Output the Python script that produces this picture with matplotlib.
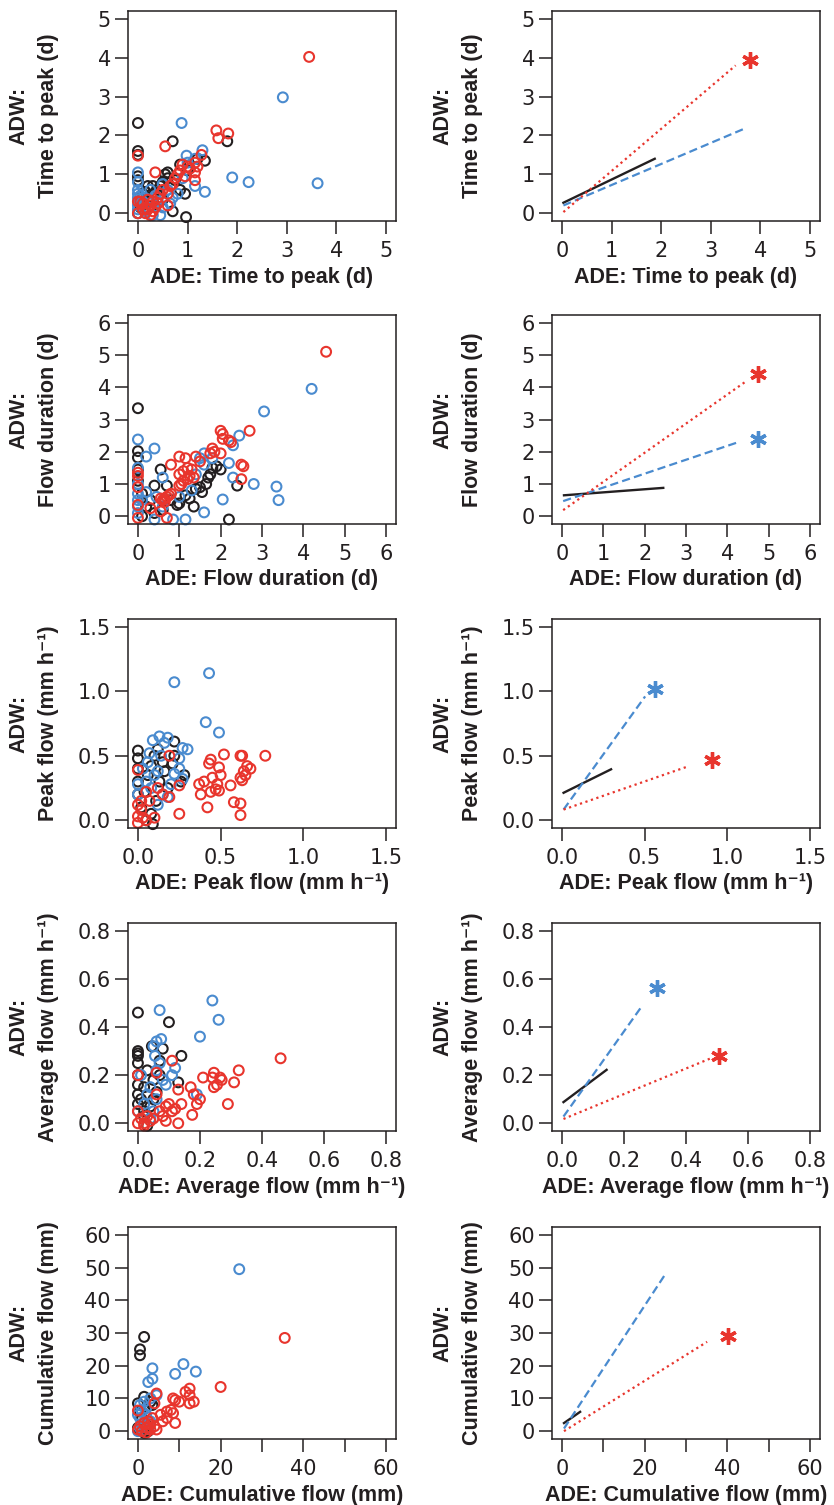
import numpy as np
import matplotlib
matplotlib.use('Agg')
import matplotlib.pyplot as plt

# colours for the three groups
BLACK = '#231f20'
BLUE = '#4a8bcf'
RED = '#e8352d'

# ---- time to peak (d) ----
tp_black = [(0.0, 2.32), (0.0, 1.6), (0.0, 1.5), (0.7, 1.85), (1.8, 1.85), (1.35, 1.35), (1.2, 1.4),
            (0.85, 1.25), (1.0, 1.1), (0.6, 1.05), (0.55, 1.0), (0.95, 0.5), (0.7, 0.05), (0.97, -0.1),
            (0.3, 0.7), (0.2, 0.7), (0.0, 0.95), (0.0, 0.85), (0.4, 0.6), (0.5, 0.8), (0.6, 0.9),
            (0.75, 0.85), (0.1, 0.5), (0.2, 0.4), (0.3, 0.2), (0.0, 0.0), (0.05, 0.15), (0.15, 0.55),
            (0.5, 0.35), (0.45, 0.7), (0.25, 0.3), (0.85, 0.6)]
tp_blue = [(2.92, 2.98), (3.62, 0.77), (2.23, 0.8), (1.9, 0.92), (0.88, 2.32), (0.98, 1.48), (1.3, 1.62),
           (1.35, 0.55), (1.15, 0.7), (1.0, 1.3), (1.15, 1.4), (0.0, 1.05), (0.0, 0.8), (0.0, 0.6),
           (0.0, 0.5), (0.0, 0.4), (0.0, 0.3), (0.0, 0.2), (0.0, 0.1), (0.0, 0.0), (0.05, 0.45),
           (0.1, 0.3), (0.2, 0.15), (0.3, -0.05), (0.45, -0.05), (0.5, 0.15), (0.4, 0.3), (0.6, 0.6),
           (0.8, 0.5), (0.7, 0.4), (0.65, 0.25), (0.9, 0.9), (0.5, 0.75), (0.25, 0.6), (0.15, 0.05),
           (0.35, 0.45)]
tp_red = [(3.45, 4.02), (1.58, 2.13), (1.62, 1.93), (1.82, 2.05), (0.55, 1.72), (0.0, 1.48), (0.35, 1.05),
          (1.28, 1.5), (1.15, 1.3), (1.2, 1.2), (1.15, 1.05), (0.85, 1.1), (0.9, 1.25), (0.8, 1.0),
          (0.75, 0.9), (1.15, 0.85), (0.65, 0.7), (0.6, 0.5), (0.6, 0.2), (0.4, 0.4), (0.3, 0.3),
          (0.25, 0.2), (0.2, 0.1), (0.15, 0.0), (0.1, 0.25), (0.05, 0.3), (0.0, 0.3), (0.0, 0.0),
          (0.3, 0.05), (0.35, 0.15), (0.45, 0.5), (0.5, 0.6), (0.2, 0.35), (0.1, 0.1), (0.25, -0.05),
          (0.4, 0.25), (0.7, 0.75), (0.95, 0.95), (1.05, 1.15), (1.0, 1.2)]
tp_fit_black = [(0.03, 0.27), (1.87, 1.40)]
tp_fit_blue = [(0.03, 0.20), (3.65, 2.16)]
tp_fit_red = [(0.03, 0.03), (3.50, 3.80)]
tp_star_blue = None
tp_star_red = (3.79, 3.94)

# ---- flow duration (d) ----
fd_black = [(0.0, 3.35), (0.0, 2.02), (0.0, 1.82), (0.0, 1.45), (0.55, 1.45), (0.4, 0.95), (0.7, 0.95),
            (2.2, -0.1), (2.4, 0.95), (1.8, 1.5), (1.9, 1.55), (2.0, 1.45), (1.7, 1.2), (1.65, 1.0),
            (1.5, 0.9), (1.55, 0.75), (1.4, 0.85), (1.25, 0.55), (1.35, 0.3), (1.0, 0.4), (0.95, 0.35),
            (0.8, 0.5), (0.6, 0.2), (0.4, 0.1), (0.1, 0.0), (0.2, 0.3), (0.3, 0.5), (0.1, 0.7),
            (0.0, 1.1), (1.75, 1.3), (1.15, 0.65)]
fd_blue = [(4.2, 3.95), (3.05, 3.25), (2.45, 2.5), (2.3, 2.2), (0.0, 2.38), (0.4, 2.1), (0.2, 1.85),
           (2.2, 1.65), (2.3, 1.2), (2.8, 1.0), (3.35, 0.92), (3.4, 0.5), (2.05, 0.52), (1.6, 0.12),
           (1.15, -0.1), (0.85, -0.1), (0.4, -0.1), (0.0, 1.5), (0.0, 1.0), (0.0, 0.7), (0.0, 0.5),
           (0.0, 0.3), (0.0, 0.1), (0.1, 0.5), (0.2, 0.75), (0.45, 0.6), (0.6, 1.2), (0.6, 0.3),
           (1.4, 1.3), (1.6, 1.6), (1.5, 1.8), (1.6, 1.95), (1.8, 1.8), (1.3, 0.8), (1.0, 0.6)]
fd_red = [(4.55, 5.1), (2.0, 2.65), (2.05, 2.55), (2.7, 2.65), (2.2, 2.35), (2.05, 2.4), (2.25, 2.3),
          (1.8, 2.1), (1.75, 1.95), (1.85, 2.0), (2.0, 1.95), (1.4, 1.85), (1.0, 1.85), (1.15, 1.8),
          (0.8, 1.6), (1.5, 1.7), (2.55, 1.55), (2.5, 1.6), (2.5, 1.15), (1.2, 1.5), (1.1, 1.4),
          (1.3, 1.45), (1.25, 1.25), (1.0, 1.3), (1.1, 1.1), (1.0, 0.95), (0.0, 1.35), (0.0, 1.25),
          (0.0, 0.9), (0.0, 0.35), (0.0, -0.05), (0.3, 0.25), (0.55, 0.55), (0.6, 0.5), (0.65, 0.55),
          (0.7, 0.6), (0.75, 0.65), (0.65, 0.45), (0.8, 0.7), (0.55, 0.15), (0.7, -0.05), (1.2, 1.15),
          (1.35, 1.2), (1.05, 1.0)]
fd_fit_black = [(0.05, 0.65), (2.45, 0.88)]
fd_fit_blue = [(0.03, 0.47), (4.27, 2.30)]
fd_fit_red = [(0.03, 0.19), (4.47, 4.20)]
fd_star_blue = (4.75, 2.39)
fd_star_red = (4.75, 4.41)

# ---- peak flow (mm h-1) ----
pf_black = [(0.0, 0.54), (0.0, 0.48), (0.0, 0.4), (0.0, 0.3), (0.0, 0.2), (0.02, 0.1), (0.05, 0.0),
            (0.09, -0.03), (0.22, 0.61), (0.22, 0.5), (0.21, 0.44), (0.28, 0.35), (0.1, 0.5), (0.08, 0.42),
            (0.15, 0.45), (0.13, 0.3), (0.06, 0.35), (0.18, 0.25), (0.11, 0.15), (0.04, 0.22), (0.16, 0.38),
            (0.12, 0.55), (0.08, 0.05), (0.26, 0.3)]
pf_blue = [(0.43, 1.14), (0.22, 1.07), (0.41, 0.76), (0.49, 0.68), (0.13, 0.65), (0.09, 0.62), (0.18, 0.64),
           (0.16, 0.6), (0.27, 0.56), (0.3, 0.55), (0.14, 0.5), (0.06, 0.45), (0.25, 0.48), (0.22, 0.36),
           (0.27, 0.32), (0.1, 0.35), (0.05, 0.3), (0.08, 0.25), (0.0, 0.28), (0.0, 0.2), (0.12, 0.12),
           (0.15, 0.2), (0.18, 0.18), (0.03, 0.4), (0.12, 0.38), (0.07, 0.52), (0.2, 0.28), (0.25, 0.4)]
pf_red = [(0.77, 0.5), (0.52, 0.51), (0.63, 0.5), (0.62, 0.5), (0.44, 0.47), (0.43, 0.44), (0.49, 0.41),
          (0.66, 0.42), (0.64, 0.38), (0.5, 0.35), (0.45, 0.33), (0.62, 0.33), (0.63, 0.31), (0.4, 0.3),
          (0.37, 0.28), (0.56, 0.27), (0.48, 0.28), (0.44, 0.22), (0.47, 0.24), (0.49, 0.23), (0.38, 0.2),
          (0.58, 0.14), (0.62, 0.13), (0.42, 0.1), (0.62, 0.04), (0.25, 0.05), (0.25, 0.27), (0.19, 0.5),
          (0.0, 0.39), (0.19, 0.18), (0.15, 0.2), (0.05, 0.22), (0.0, 0.12), (0.02, 0.08), (0.0, 0.03),
          (0.05, 0.0), (0.03, 0.02), (0.1, 0.02), (0.07, 0.15), (0.12, 0.25), (0.0, -0.02), (0.02, 0.15),
          (0.68, 0.4), (0.65, 0.35)]
pf_fit_black = [(0.01, 0.213), (0.297, 0.395)]
pf_fit_blue = [(0.01, 0.083), (0.503, 0.96)]
pf_fit_red = [(0.01, 0.083), (0.768, 0.42)]
pf_star_blue = (0.56, 1.02)
pf_star_red = (0.91, 0.47)

# ---- average flow (mm h-1) ----
af_black = [(0.0, 0.46), (0.1, 0.42), (0.0, 0.3), (0.0, 0.29), (0.0, 0.28), (0.0, 0.25), (0.14, 0.28),
            (0.13, 0.17), (0.045, 0.32), (0.08, 0.31), (0.07, 0.26), (0.0, 0.2), (0.0, 0.16), (0.0, 0.12),
            (0.0, 0.08), (0.02, 0.15), (0.03, 0.22), (0.05, 0.18), (0.06, 0.13), (0.04, 0.07), (0.02, 0.03),
            (0.03, -0.01), (0.01, 0.1), (0.07, 0.2), (0.05, 0.1), (0.02, 0.05)]
af_blue = [(0.24, 0.51), (0.26, 0.43), (0.07, 0.47), (0.2, 0.36), (0.075, 0.35), (0.06, 0.34), (0.05, 0.32),
           (0.055, 0.28), (0.07, 0.25), (0.12, 0.23), (0.11, 0.2), (0.08, 0.18), (0.06, 0.22), (0.04, 0.15),
           (0.06, 0.1), (0.03, 0.12), (0.19, 0.12), (0.0, 0.05), (0.02, 0.08), (0.05, 0.05), (0.01, 0.2),
           (0.04, 0.02), (0.09, 0.16)]
af_red = [(0.46, 0.27), (0.325, 0.22), (0.31, 0.17), (0.245, 0.21), (0.24, 0.19), (0.265, 0.19), (0.27, 0.18),
          (0.255, 0.16), (0.245, 0.15), (0.21, 0.19), (0.29, 0.08), (0.17, 0.15), (0.18, 0.12), (0.2, 0.1),
          (0.19, 0.08), (0.175, 0.035), (0.13, 0.14), (0.14, 0.08), (0.13, 0.0), (0.11, 0.26), (0.1, 0.08),
          (0.12, 0.06), (0.11, 0.05), (0.09, 0.07), (0.09, 0.01), (0.07, 0.05), (0.06, 0.12), (0.06, 0.21),
          (0.0, 0.2), (0.0, 0.05), (0.01, 0.02), (0.02, 0.0), (0.03, 0.03), (0.04, 0.01), (0.0, 0.0),
          (0.02, -0.01), (0.05, 0.02), (0.08, 0.03)]
af_fit_black = [(0.005, 0.088), (0.144, 0.222)]
af_fit_blue = [(0.005, 0.028), (0.258, 0.487)]
af_fit_red = [(0.005, 0.018), (0.48, 0.27)]
af_star_blue = (0.305, 0.56)
af_star_red = (0.505, 0.28)

# ---- cumulative flow (mm) ----
cf_black = [(0.5, 25), (0.5, 23.2), (1.5, 28.8), (0, 8.5), (1.5, 10.5), (3, 9), (0.5, 6), (1, 4), (2, 2),
            (2.5, 0), (0, 1), (1.5, -0.5), (3.5, 8)]
cf_blue = [(24.5, 49.5), (11, 20.5), (14, 18.2), (9, 17.5), (3.5, 19.2), (3.5, 16), (2.5, 15), (4.5, 11),
           (3, 10), (0.5, 8), (1, 6), (0.5, 4), (1, 2), (0, 0), (2, 5), (3, 3), (1.5, 9), (2, 7), (0.5, 1),
           (2.5, 1), (0, 5)]
cf_red = [(35.5, 28.5), (20, 13.5), (12.5, 13), (11.5, 12), (12.5, 11), (12.5, 8.5), (13.5, 9), (10, 9),
          (8.5, 10), (9, 9.5), (4.5, 11.5), (4, 8.5), (0, 6.3), (8, 6.5), (7, 6), (8.5, 5.5), (7, 4), (6, 3),
          (5.5, 5), (9, 2.5), (4.5, 0.5), (3, 2), (2, 1), (1, 0), (0, 0.5), (2.5, 3), (3.5, 4), (1.5, 2.5),
          (0.5, 1.5), (2, -0.5), (3, 0.5), (4, 1.5)]
cf_fit_black = [(0.5, 2.47), (4.4, 5.9)]
cf_fit_blue = [(0.5, 0.8), (24.8, 47.6)]
cf_fit_red = [(0.5, 0.0), (35.1, 27.3)]
cf_star_blue = None
cf_star_red = (40.2, 29.1)

# ---- axis setup per row ----
names = ['Time to peak (d)', 'Flow duration (d)', 'Peak flow (mm h\u207b\u00b9)',
         'Average flow (mm h\u207b\u00b9)', 'Cumulative flow (mm)']
axis_max = [5, 6, 1.5, 0.8, 60]
tick_vals = [[0, 1, 2, 3, 4, 5], [0, 1, 2, 3, 4, 5, 6], [0.0, 0.5, 1.0, 1.5],
             [0.0, 0.2, 0.4, 0.6, 0.8], [0, 10, 20, 30, 40, 50, 60]]
tick_text = [['0', '1', '2', '3', '4', '5'], ['0', '1', '2', '3', '4', '5', '6'],
             ['0.0', '0.5', '1.0', '1.5'], ['0.0', '0.2', '0.4', '0.6', '0.8'],
             ['0', '10', '20', '30', '40', '50', '60']]
xtick_text = [tick_text[0], tick_text[1], tick_text[2], tick_text[3],
              ['0', '', '20', '', '40', '', '60']]

scatters = [(tp_black, tp_blue, tp_red), (fd_black, fd_blue, fd_red), (pf_black, pf_blue, pf_red),
            (af_black, af_blue, af_red), (cf_black, cf_blue, cf_red)]
fits = [(tp_fit_black, tp_fit_blue, tp_fit_red), (fd_fit_black, fd_fit_blue, fd_fit_red),
        (pf_fit_black, pf_fit_blue, pf_fit_red), (af_fit_black, af_fit_blue, af_fit_red),
        (cf_fit_black, cf_fit_blue, cf_fit_red)]
stars = [(tp_star_blue, tp_star_red), (fd_star_blue, fd_star_red), (pf_star_blue, pf_star_red),
         (af_star_blue, af_star_red), (cf_star_blue, cf_star_red)]

LABEL_FONT = ['Liberation Sans', 'DejaVu Sans']
TICK_FONT = ['DejaVu Sans']

plt.rcParams['font.family'] = TICK_FONT
plt.rcParams['axes.linewidth'] = 1.1
plt.rcParams['axes.edgecolor'] = BLACK

fig = plt.figure(figsize=(8.34, 15.05), dpi=100)

W, H = 834.0, 1505.0
col_left = [128, 552]
row_top = [11, 315, 619, 923, 1227]
row_bot = [221, 524, 828, 1131, 1439]
ax_w = 268
xlab_off = 56  # px from frame bottom to x label centre


def style_axes(ax, i):
    m = axis_max[i]
    h = row_bot[i] - row_top[i]
    ax.set_xlim(-0.04 * m, 1.04 * m)
    ax.set_ylim(-0.04 * m, 1.04 * m)
    ax.set_xticks(tick_vals[i])
    ax.set_xticklabels(xtick_text[i])
    ax.set_yticks(tick_vals[i])
    ax.set_yticklabels(tick_text[i])
    ax.tick_params(axis='both', direction='out', length=9.4, width=1.1, color=BLACK,
                   labelsize=15, labelcolor=BLACK)
    ax.tick_params(axis='x', pad=5)
    ax.tick_params(axis='y', pad=3)
    for sp in ax.spines.values():
        sp.set_color(BLACK)
        sp.set_linewidth(1.1)
    ax.set_xlabel('ADE: ' + names[i], family=LABEL_FONT, fontweight='bold', fontsize=15.5,
                  color=BLACK, va='center')
    ax.xaxis.set_label_coords(0.5, -xlab_off / h)
    ax.set_ylabel('ADW:\n' + names[i], family=LABEL_FONT, fontweight='bold', fontsize=15.5,
                  color=BLACK, va='center', ha='center', multialignment='center', linespacing=1.55)
    ax.yaxis.set_label_coords(-0.351, 0.5)


for i in range(5):
    h = row_bot[i] - row_top[i]
    bottom = 1 - row_bot[i] / H
    # left column: scatter of individual events
    ax = fig.add_axes([col_left[0] / W, bottom, ax_w / W, h / H])
    for pts, col in zip(scatters[i], [BLACK, BLUE, RED]):
        arr = np.array(pts, dtype=float)
        ax.scatter(arr[:, 0], arr[:, 1], s=50, facecolors='none', edgecolors=col, linewidths=1.5,
                   clip_on=False)
    style_axes(ax, i)

    # right column: fitted lines
    ax = fig.add_axes([col_left[1] / W, bottom, ax_w / W, h / H])
    fb, fu, fr = fits[i]
    ax.plot(*np.array(fb).T, color=BLACK, lw=1.7, ls='-')
    ax.plot(*np.array(fu).T, color=BLUE, lw=1.6, ls=(0, (3.7, 1.9)))
    ax.plot(*np.array(fr).T, color=RED, lw=1.6, ls=(0, (1, 1.6)))
    sb, sr = stars[i]
    if sb is not None:
        ax.plot([sb[0]], [sb[1]], marker=(6, 2, 0), ms=12, mew=2.4, color=BLUE, ls='none')
    if sr is not None:
        ax.plot([sr[0]], [sr[1]], marker=(6, 2, 0), ms=12, mew=2.4, color=RED, ls='none')
    style_axes(ax, i)

fig.savefig('out.png', dpi=100)
